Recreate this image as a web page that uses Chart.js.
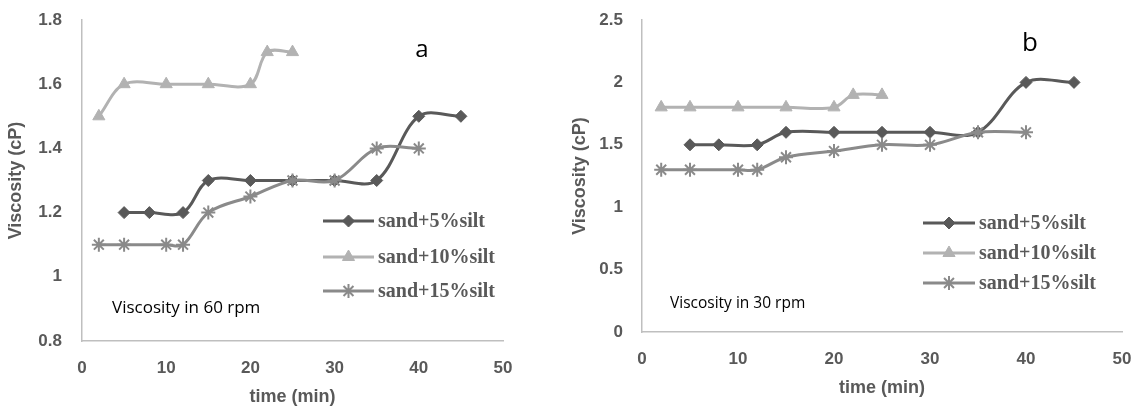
<!DOCTYPE html>
<html>
<head>
<meta charset="utf-8">
<script src="https://cdn.jsdelivr.net/npm/chart.js@4/dist/chart.umd.min.js"></script>
<style>
  html, body { margin: 0; padding: 0; background: #ffffff; }
  #wrap { position: relative; width: 1138px; height: 412px; overflow: hidden; background: #fff; }
  .box { position: absolute; top: 0; height: 412px; }
</style>
</head>
<body>
<div id="wrap">
  <div class="box" style="left:0px;width:560px;"><canvas id="chartA" width="560" height="412"></canvas></div>
  <div class="box" style="left:560px;width:578px;"><canvas id="chartB" width="578" height="412"></canvas></div>
</div>
<script>
// ---- data ----
const seriesLabels = ["sand+5%silt", "sand+10%silt", "sand+15%silt"];

const timeSand5  = [5, 8, 12, 15, 20, 25, 30, 35, 40, 45];
const timeSand10 = [2, 5, 10, 15, 20, 22, 25];
const timeSand15 = [2, 5, 10, 12, 15, 20, 25, 30, 35, 40];

// chart a : viscosity at 60 rpm
const viscA5  = [1.2, 1.2, 1.2, 1.3, 1.3, 1.3, 1.3, 1.3, 1.5, 1.5];
const viscA10 = [1.5, 1.6, 1.6, 1.6, 1.6, 1.7, 1.7];
const viscA15 = [1.1, 1.1, 1.1, 1.1, 1.2, 1.25, 1.3, 1.3, 1.4, 1.4];

// chart b : viscosity at 30 rpm
const viscB5  = [1.5, 1.5, 1.5, 1.6, 1.6, 1.6, 1.6, 1.6, 2.0, 2.0];
const viscB10 = [1.8, 1.8, 1.8, 1.8, 1.8, 1.9, 1.9];
const viscB15 = [1.3, 1.3, 1.3, 1.3, 1.4, 1.45, 1.5, 1.5, 1.6, 1.6];

const xTicksA = [0, 10, 20, 30, 40, 50];
const yTicksA = [0.8, 1.0, 1.2, 1.4, 1.6, 1.8];
const yTicksB = [0, 0.5, 1.0, 1.5, 2.0, 2.5];

// ---- styles ----
const colors = ["#595959", "#b2b2b2", "#8a8a8a"];
const markers = ["rectRot", "triangle", "star"];
const markerRadius = [6, 7, 7];
const textGray = "#595959";
const axisGray = "#bfbfbf";
const tickFont = { family: "'Liberation Sans', Arial, sans-serif", size: 17, weight: "bold" };
const titleFont = { family: "'Liberation Sans', Arial, sans-serif", size: 18, weight: "bold" };

Chart.defaults.font.family = "'Liberation Sans', Arial, sans-serif";
Chart.defaults.color = textGray;

function pts(xs, ys) { return xs.map((x, i) => ({ x: x, y: ys[i] })); }

function makeDataset(idx, xs, ys) {
  return {
    label: seriesLabels[idx],
    data: pts(xs, ys),
    borderColor: colors[idx],
    backgroundColor: colors[idx],
    pointBackgroundColor: colors[idx],
    pointBorderColor: colors[idx],
    borderWidth: 3,
    pointStyle: markers[idx],
    pointRadius: markerRadius[idx],
    pointHoverRadius: markerRadius[idx],
    pointBorderWidth: idx === 2 ? 2 : 1,
    tension: 0.35,
    fill: false,
    order: 2 - idx
  };
}

function drawMarker(ctx, style, x, y, r, color) {
  ctx.save();
  ctx.fillStyle = color; ctx.strokeStyle = color;
  if (Chart.helpers && Chart.helpers.drawPoint) {
    ctx.lineWidth = style === "star" ? 2 : 1;
    Chart.helpers.drawPoint(ctx, { pointStyle: style, radius: r, rotation: 0, borderWidth: ctx.lineWidth }, x, y);
  } else {
    ctx.beginPath();
    if (style === "rectRot") {
      ctx.moveTo(x, y - r); ctx.lineTo(x + r, y); ctx.lineTo(x, y + r); ctx.lineTo(x - r, y); ctx.closePath(); ctx.fill();
    } else if (style === "triangle") {
      ctx.moveTo(x, y - r); ctx.lineTo(x + r * 0.866, y + r / 2); ctx.lineTo(x - r * 0.866, y + r / 2); ctx.closePath(); ctx.fill();
    } else {
      ctx.lineWidth = 2;
      for (let k = 0; k < 4; k++) {
        const a = k * Math.PI / 4;
        ctx.moveTo(x - r * Math.cos(a), y - r * Math.sin(a));
        ctx.lineTo(x + r * Math.cos(a), y + r * Math.sin(a));
      }
      ctx.stroke();
    }
  }
  ctx.restore();
}

const overlayPlugin = {
  id: "overlay",
  afterDraw(chart, args, o) {
    const ctx = chart.ctx;
    ctx.save();
    // legend
    chart.data.datasets.forEach((ds, i) => {
      const y = o.legendY[i];
      ctx.strokeStyle = ds.borderColor;
      ctx.lineWidth = 3;
      ctx.beginPath();
      ctx.moveTo(o.legendX0, y); ctx.lineTo(o.legendX1, y);
      ctx.stroke();
      drawMarker(ctx, ds.pointStyle, (o.legendX0 + o.legendX1) / 2, y, ds.pointRadius, ds.borderColor);
      ctx.fillStyle = textGray;
      ctx.font = "bold 20px 'Liberation Serif', 'Times New Roman', serif";
      ctx.textBaseline = "middle";
      ctx.textAlign = "left";
      ctx.fillText(ds.label, o.legendText, y + 1);
    });
    // annotation texts
    ctx.fillStyle = "#000000";
    ctx.textAlign = "center";
    ctx.textBaseline = "middle";
    ctx.font = o.letterFont;
    ctx.fillText(o.letter, o.letterX, o.letterY);
    ctx.textAlign = "left";
    ctx.font = o.noteFont;
    ctx.fillText(o.note, o.noteX, o.noteY);
    ctx.restore();
  }
};

function makeChart(id, cfg) {
  return new Chart(document.getElementById(id), {
    type: "line",
    data: { datasets: cfg.datasets },
    plugins: [overlayPlugin],
    options: {
      responsive: false,
      animation: false,
      events: [],
      layout: { padding: { left: 0, top: 20, right: cfg.rightPad, bottom: 0 } },
      plugins: {
        legend: { display: false },
        tooltip: { enabled: false },
        overlay: cfg.overlay
      },
      scales: {
        x: {
          type: "linear",
          min: 0, max: 50,
          grid: { display: false, drawTicks: false },
          border: { display: true, color: axisGray, width: 1.5 },
          afterBuildTicks: (s) => { s.ticks = xTicksA.map(v => ({ value: v })); },
          ticks: { padding: 17, font: tickFont, color: textGray },
          title: { display: true, text: "time (min)", font: titleFont, color: textGray, padding: { top: 0, bottom: cfg.xTitlePad } },
          afterFit: (s) => { s.height = cfg.xAxisH; s.paddingLeft = 0; s.paddingRight = 0; }
        },
        y: {
          type: "linear",
          min: cfg.yMin, max: cfg.yMax,
          grid: { display: false, drawTicks: false },
          border: { display: true, color: axisGray, width: 1.5 },
          afterBuildTicks: (s) => { s.ticks = cfg.yTicks.map(v => ({ value: v })); },
          ticks: {
            padding: cfg.yTickPad,
            font: tickFont, color: textGray,
            callback: (v) => String(+Number(v).toFixed(2))
          },
          title: { display: true, text: "Viscosity (cP)", font: titleFont, color: textGray, padding: { top: cfg.yTitlePad, bottom: 0 } },
          afterFit: (s) => { s.width = 82; s.paddingTop = 0; s.paddingBottom = 0; }
        }
      }
    }
  });
}

makeChart("chartA", {
  datasets: [makeDataset(0, timeSand5, viscA5), makeDataset(1, timeSand10, viscA10), makeDataset(2, timeSand15, viscA15)],
  yMin: 0.8, yMax: 1.8, yTicks: yTicksA,
  rightPad: 57, xAxisH: 71, xTitlePad: 4, yTitlePad: 5, yTickPad: 20,
  overlay: {
    legendX0: 323, legendX1: 374, legendText: 378, legendY: [221, 257, 291],
    letter: "a", letterX: 422, letterY: 50, letterFont: "24px 'Open Sans', sans-serif",
    note: "Viscosity in 60 rpm", noteX: 112, noteY: 308, noteFont: "17px 'Open Sans', sans-serif"
  }
});

makeChart("chartB", {
  datasets: [makeDataset(0, timeSand5, viscB5), makeDataset(1, timeSand10, viscB10), makeDataset(2, timeSand15, viscB15)],
  yMin: 0, yMax: 2.5, yTicks: yTicksB,
  rightPad: 16, xAxisH: 80, xTitlePad: 13, yTitlePad: 9, yTickPad: 19,
  overlay: {
    legendX0: 363, legendX1: 415, legendText: 419, legendY: [223, 253, 283],
    letter: "b", letterX: 470, letterY: 44, letterFont: "26px 'Open Sans', sans-serif",
    note: "Viscosity in 30 rpm", noteX: 110, noteY: 304, noteFont: "15.5px 'Open Sans', sans-serif"
  }
});
</script>
</body>
</html>
